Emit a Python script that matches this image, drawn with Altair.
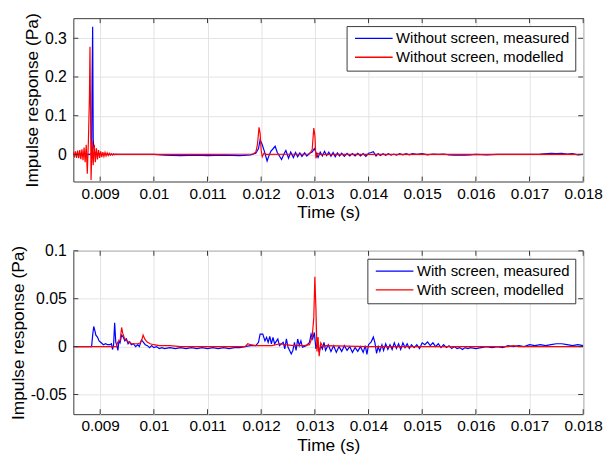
import altair as alt
import pandas as pd

FONT = "Liberation Sans"
BLUE = "#0000ff"
RED = "#ff0000"
AXIS_COLOR = "#3a3a3a"

X_TICKS = [0.009, 0.010, 0.011, 0.012, 0.013, 0.014, 0.015, 0.016, 0.017, 0.018]
TOP_Y_TICKS = [0.0, 0.1, 0.2, 0.3]
BOT_Y_TICKS = [-0.05, 0.0, 0.05, 0.1]

TOP_NAMES = ["Without screen, measured", "Without screen, modelled"]
BOT_NAMES = ["With screen, measured", "With screen, modelled"]

# ---- top panel, measured
TOP_MEAS_T = [
    0.00850, 0.00880, 0.00884, 0.00885, 0.00886, 0.00887, 0.00888, 0.00890, 0.00900, 0.00950,
    0.01000, 0.01020, 0.01050, 0.01080, 0.01100, 0.01130, 0.01160, 0.01180, 0.01190, 0.01195,
    0.01198, 0.01202, 0.01206, 0.01211, 0.01214, 0.01218, 0.01226, 0.01230, 0.01238, 0.01242,
    0.01246, 0.01251, 0.01255, 0.01260, 0.01264, 0.01268, 0.01272, 0.01276, 0.01281, 0.01285,
    0.01290, 0.01295, 0.01299, 0.01302, 0.01306, 0.01310, 0.01314, 0.01318, 0.01322, 0.01326,
    0.01330, 0.01334, 0.01338, 0.01342, 0.01346, 0.01350, 0.01355, 0.01360, 0.01365, 0.01370,
    0.01375, 0.01380, 0.01385, 0.01390, 0.01395, 0.01400, 0.01405, 0.01409, 0.01414, 0.01418,
    0.01422, 0.01427, 0.01432, 0.01437, 0.01442, 0.01447, 0.01452, 0.01458, 0.01464, 0.01470,
    0.01476, 0.01482, 0.01490, 0.01500, 0.01510, 0.01520, 0.01530, 0.01540, 0.01550, 0.01560,
    0.01570, 0.01580, 0.01590, 0.01600, 0.01620, 0.01640, 0.01660, 0.01680, 0.01700, 0.01720,
    0.01740, 0.01750, 0.01760, 0.01770, 0.01780, 0.01790, 0.01800,
]
TOP_MEAS_V = [
    0.0, 0.0, 0.002, 0.20, 0.33, 0.04, 0.02, 0.004, 0.001, 0.0,
    0.0, -0.002, -0.003, -0.002, -0.003, -0.002, -0.003, -0.001, 0.003, 0.015,
    0.038, 0.025, 0.008, -0.017, -0.005, 0.008, 0.021, 0.005, -0.013, 0.000,
    0.010, -0.010, 0.006, -0.008, 0.005, -0.006, 0.004, -0.005, 0.004, -0.004,
    0.003, 0.006, 0.015, 0.005, -0.008, 0.006, -0.004, 0.008, -0.003, 0.006,
    -0.005, 0.005, -0.006, 0.004, -0.004, 0.003, -0.005, 0.003, -0.004, 0.002,
    -0.004, 0.003, -0.004, 0.002, -0.005, 0.003, 0.005, 0.007, -0.004, 0.002,
    -0.003, 0.002, -0.002, 0.002, -0.002, 0.001, -0.002, 0.002, -0.001, 0.002,
    -0.001, 0.002, 0.0, 0.002, -0.001, 0.001, 0.0, 0.001, -0.001, -0.002,
    -0.001, -0.002, -0.001, 0.0, -0.001, 0.0, 0.0, 0.0, 0.0, 0.001,
    0.003, 0.002, 0.003, 0.001, 0.002, -0.001, 0.0,
]

# ---- top panel, modelled
TOP_MOD_T = [
    0.00850, 0.00852, 0.00854, 0.00856, 0.00858, 0.00860, 0.00862, 0.00864, 0.00866, 0.00868,
    0.00870, 0.00872, 0.00874, 0.00876, 0.00878, 0.00880, 0.00881, 0.00882, 0.00883, 0.00885,
    0.00887, 0.00889, 0.00891, 0.00893, 0.00895, 0.00897, 0.00899, 0.00901, 0.00903, 0.00905,
    0.00907, 0.00909, 0.00911, 0.00913, 0.00915, 0.00917, 0.00919, 0.00921, 0.00923, 0.00925,
    0.00927, 0.00929, 0.00932, 0.00940, 0.01100, 0.01185, 0.01190, 0.01193, 0.01196, 0.01198,
    0.01200, 0.01202, 0.01205, 0.01210, 0.01290, 0.01295, 0.01298, 0.01300, 0.01302, 0.01305,
    0.01310, 0.01800,
]
TOP_MOD_V = [
    0.008, -0.008, 0.008, -0.009, 0.010, -0.010, 0.011, -0.012, 0.013, -0.015,
    0.018, -0.020, 0.025, -0.050, 0.032, 0.150, 0.278, 0.120, -0.066, 0.035,
    -0.028, 0.025, -0.020, 0.016, -0.013, 0.011, -0.009, 0.008, -0.007, 0.006,
    -0.005, 0.005, -0.004, 0.004, -0.003, 0.003, -0.002, 0.002, -0.0015, 0.0015,
    -0.001, 0.001, 0.0, 0.0, 0.0, 0.001, 0.006, 0.025, 0.070, 0.055,
    0.010, -0.006, 0.003, 0.000, 0.001, 0.012, 0.068, 0.050, -0.010, 0.003,
    0.000, 0.0,
]

# ---- bottom panel, measured
BOT_MEAS_T = [
    0.00850, 0.00884, 0.00886, 0.00888, 0.00890, 0.00892, 0.00895, 0.00898, 0.00902, 0.00906,
    0.00910, 0.00914, 0.00918, 0.00921, 0.00923, 0.00925, 0.00927, 0.00929, 0.00931, 0.00933,
    0.00935, 0.00937, 0.00940, 0.00943, 0.00946, 0.00949, 0.00952, 0.00955, 0.00958, 0.00962,
    0.00966, 0.00970, 0.00973, 0.00977, 0.00980, 0.00984, 0.00988, 0.00992, 0.00996, 0.01000,
    0.01005, 0.01010, 0.01015, 0.01020, 0.01030, 0.01040, 0.01050, 0.01060, 0.01070, 0.01080,
    0.01090, 0.01100, 0.01110, 0.01120, 0.01130, 0.01140, 0.01150, 0.01160, 0.01170, 0.01180,
    0.01190, 0.01195, 0.01198, 0.01203, 0.01207, 0.01210, 0.01213, 0.01216, 0.01219, 0.01222,
    0.01225, 0.01231, 0.01234, 0.01241, 0.01244, 0.01247, 0.01250, 0.01253, 0.01256, 0.01259,
    0.01262, 0.01265, 0.01268, 0.01271, 0.01274, 0.01277, 0.01284, 0.01290, 0.01293, 0.01296,
    0.01299, 0.01302, 0.01305, 0.01308, 0.01311, 0.01314, 0.01317, 0.01320, 0.01325, 0.01330,
    0.01335, 0.01340, 0.01345, 0.01350, 0.01355, 0.01360, 0.01365, 0.01370, 0.01375, 0.01380,
    0.01385, 0.01390, 0.01394, 0.01397, 0.01400, 0.01405, 0.01409, 0.01412, 0.01415, 0.01418,
    0.01421, 0.01425, 0.01428, 0.01432, 0.01436, 0.01440, 0.01444, 0.01448, 0.01452, 0.01456,
    0.01460, 0.01464, 0.01468, 0.01472, 0.01476, 0.01480, 0.01485, 0.01490, 0.01495, 0.01500,
    0.01505, 0.01510, 0.01515, 0.01520, 0.01525, 0.01530, 0.01535, 0.01540, 0.01545, 0.01550,
    0.01555, 0.01560, 0.01565, 0.01570, 0.01575, 0.01580, 0.01585, 0.01590, 0.01600, 0.01610,
    0.01620, 0.01630, 0.01640, 0.01650, 0.01660, 0.01670, 0.01680, 0.01690, 0.01700, 0.01710,
    0.01720, 0.01730, 0.01740, 0.01750, 0.01760, 0.01770, 0.01780, 0.01790, 0.01800,
]
BOT_MEAS_V = [
    0.0, 0.0, 0.012, 0.021, 0.017, 0.012, 0.010, 0.006, 0.004, 0.002,
    0.003, 0.002, 0.002, 0.003, -0.003, 0.002, 0.025, 0.005, 0.001, -0.004,
    0.006, 0.004, 0.012, 0.010, 0.006, 0.008, 0.003, 0.005, 0.002, 0.003,
    0.000, 0.002, 0.000, 0.007, 0.005, 0.002, 0.001, -0.001, 0.001, -0.001,
    0.000, -0.002, -0.001, -0.002, -0.001, -0.002, -0.001, -0.002, -0.001, -0.002,
    -0.001, -0.002, -0.001, -0.002, -0.001, -0.002, -0.001, -0.001, 0.000, 0.001,
    0.001, 0.0045, 0.013, 0.013, 0.006, 0.0097, 0.0045, 0.0107, 0.0028, 0.0097,
    0.0028, 0.008, 0.001, 0.0045, -0.0024, 0.008, -0.0007, -0.004, -0.0076, -0.004,
    0.0045, -0.004, 0.008, 0.001, 0.006, -0.0007, 0.001, 0.0045, 0.013, 0.008,
    0.0148, -0.0024, 0.0045, -0.0058, 0.001, -0.0024, 0.0045, -0.004, 0.002, -0.005,
    0.001, -0.006, 0.000, -0.005, 0.001, -0.004, 0.000, -0.006, -0.001, -0.005,
    0.000, -0.006, 0.001, -0.008, 0.002, 0.005, 0.010, 0.004, -0.007, 0.000,
    -0.005, 0.002, -0.004, 0.003, -0.003, 0.002, -0.003, 0.004, -0.002, 0.003,
    -0.003, 0.004, -0.001, 0.003, -0.002, 0.002, -0.001, 0.002, -0.002, 0.004,
    0.002, 0.005, 0.001, 0.004, 0.000, 0.003, -0.001, 0.002, -0.001, 0.001,
    -0.002, 0.000, -0.002, -0.001, -0.003, -0.001, -0.002, -0.001, -0.002, -0.001,
    0.000, -0.001, 0.000, -0.001, 0.001, 0.000, 0.001, 0.000, 0.002, 0.001,
    0.002, 0.001, 0.002, 0.003, 0.003, 0.002, 0.001, 0.002, 0.001,
]

# ---- bottom panel, modelled
BOT_MOD_T = [
    0.00850, 0.00930, 0.00933, 0.00937, 0.00940, 0.00942, 0.00945, 0.00950, 0.00955, 0.00960,
    0.00970, 0.00975, 0.00978, 0.00980, 0.00983, 0.00987, 0.00993, 0.01000, 0.01010, 0.01030,
    0.01050, 0.01170, 0.01175, 0.01180, 0.01190, 0.01200, 0.01220, 0.01235, 0.01245, 0.01260,
    0.01280, 0.01290, 0.01295, 0.01298, 0.01300, 0.01302, 0.01304, 0.01306, 0.01308, 0.01311,
    0.01315, 0.01320, 0.01400, 0.01660, 0.01670, 0.01680, 0.01800,
]
BOT_MOD_V = [
    0.0, 0.0, 0.005, 0.006, 0.020, 0.014, 0.009, 0.006, 0.004, 0.003,
    0.003, 0.004, 0.008, 0.012, 0.008, 0.005, 0.003, 0.002, 0.001, 0.001,
    0.0, 0.0, 0.003, 0.002, 0.001, 0.001, 0.001, 0.003, 0.002, 0.001,
    0.001, 0.002, 0.010, 0.030, 0.073, 0.040, -0.005, 0.010, -0.010, 0.004,
    0.000, 0.001, 0.0, 0.0, 0.001, 0.0, 0.0,
]

W, H = 515, 165
X_DOMAIN = [0.0085, 0.018]


def panel(meas_t, meas_v, mod_t, mod_v, names, y_domain, y_ticks):
    df = pd.concat([
        pd.DataFrame({"t": meas_t, "v": meas_v, "series": names[0]}),
        pd.DataFrame({"t": mod_t, "v": mod_v, "series": names[1]}),
    ])
    xscale = alt.Scale(domain=X_DOMAIN, nice=False, zero=False)
    yscale = alt.Scale(domain=y_domain, nice=False, zero=False)
    xaxis = alt.Axis(values=X_TICKS, labelExpr="'' + datum.value", title="Time (s)",
                     labelOverlap=False, labelFlush=False)
    yaxis = alt.Axis(values=y_ticks, labelExpr="'' + datum.value", title="Impulse response (Pa)",
                     labelOverlap=False)
    lines = alt.Chart(df).mark_line(strokeWidth=1.2, clip=True).encode(
        x=alt.X("t:Q", scale=xscale, axis=xaxis),
        y=alt.Y("v:Q", scale=yscale, axis=yaxis),
        color=alt.Color("series:N", scale=alt.Scale(domain=names, range=[BLUE, RED]),
                        legend=alt.Legend(title=None, orient="top-right", offset=8,
                                          symbolType="M-3.8,0H3.8", symbolSize=100,
                                          symbolStrokeWidth=1.3, symbolOffset=15,
                                          labelOffset=15, labelFontSize=15, labelLimit=0,
                                          labelFont=FONT, labelColor="#000",
                                          strokeColor=AXIS_COLOR, fillColor="white",
                                          padding=5, rowPadding=3, cornerRadius=0)),
        order="t:Q",
    )
    xt = pd.DataFrame({"t": X_TICKS})
    yt = pd.DataFrame({"v": y_ticks})
    tick_x_b = alt.Chart(xt).mark_rule(color=AXIS_COLOR, strokeWidth=1).encode(
        x=alt.X("t:Q", axis=xaxis), y=alt.value(H - 5), y2=alt.value(H))
    tick_x_t = alt.Chart(xt).mark_rule(color=AXIS_COLOR, strokeWidth=1).encode(
        x=alt.X("t:Q", axis=xaxis), y=alt.value(0), y2=alt.value(5))
    tick_y_l = alt.Chart(yt).mark_rule(color=AXIS_COLOR, strokeWidth=1).encode(
        y=alt.Y("v:Q", axis=yaxis), x=alt.value(0), x2=alt.value(5))
    tick_y_r = alt.Chart(yt).mark_rule(color=AXIS_COLOR, strokeWidth=1).encode(
        y=alt.Y("v:Q", axis=yaxis), x=alt.value(W - 5), x2=alt.value(W))
    return alt.layer(lines, tick_x_b, tick_x_t, tick_y_l, tick_y_r).properties(
        width=W, height=H).resolve_scale(color="independent")


top = panel(TOP_MEAS_T, TOP_MEAS_V, TOP_MOD_T, TOP_MOD_V, TOP_NAMES, [-0.07, 0.352], TOP_Y_TICKS)
bot = panel(BOT_MEAS_T, BOT_MEAS_V, BOT_MOD_T, BOT_MOD_V, BOT_NAMES, [-0.0705, 0.1], BOT_Y_TICKS)

chart = alt.vconcat(top, bot, spacing=20).resolve_scale(color="independent").resolve_legend(
    color="independent").properties(
    padding={"left": 1, "top": 1, "right": 0, "bottom": 0}
).configure_view(stroke=AXIS_COLOR, strokeWidth=1).configure_axis(
    grid=True, gridColor="#e3e3e3", gridWidth=1, domain=False, ticks=False,
    labelFont=FONT, labelFontSize=16, labelColor="#000", labelPadding=7,
    titleFont=FONT, titleFontSize=17.5, titleFontWeight="normal", titleColor="#000",
    titlePadding=3,
).configure_axisX(labelPadding=5, titlePadding=2, labelFontSize=15.5)

chart.save("out.html", embed_options={"renderer": "svg", "actions": False})
